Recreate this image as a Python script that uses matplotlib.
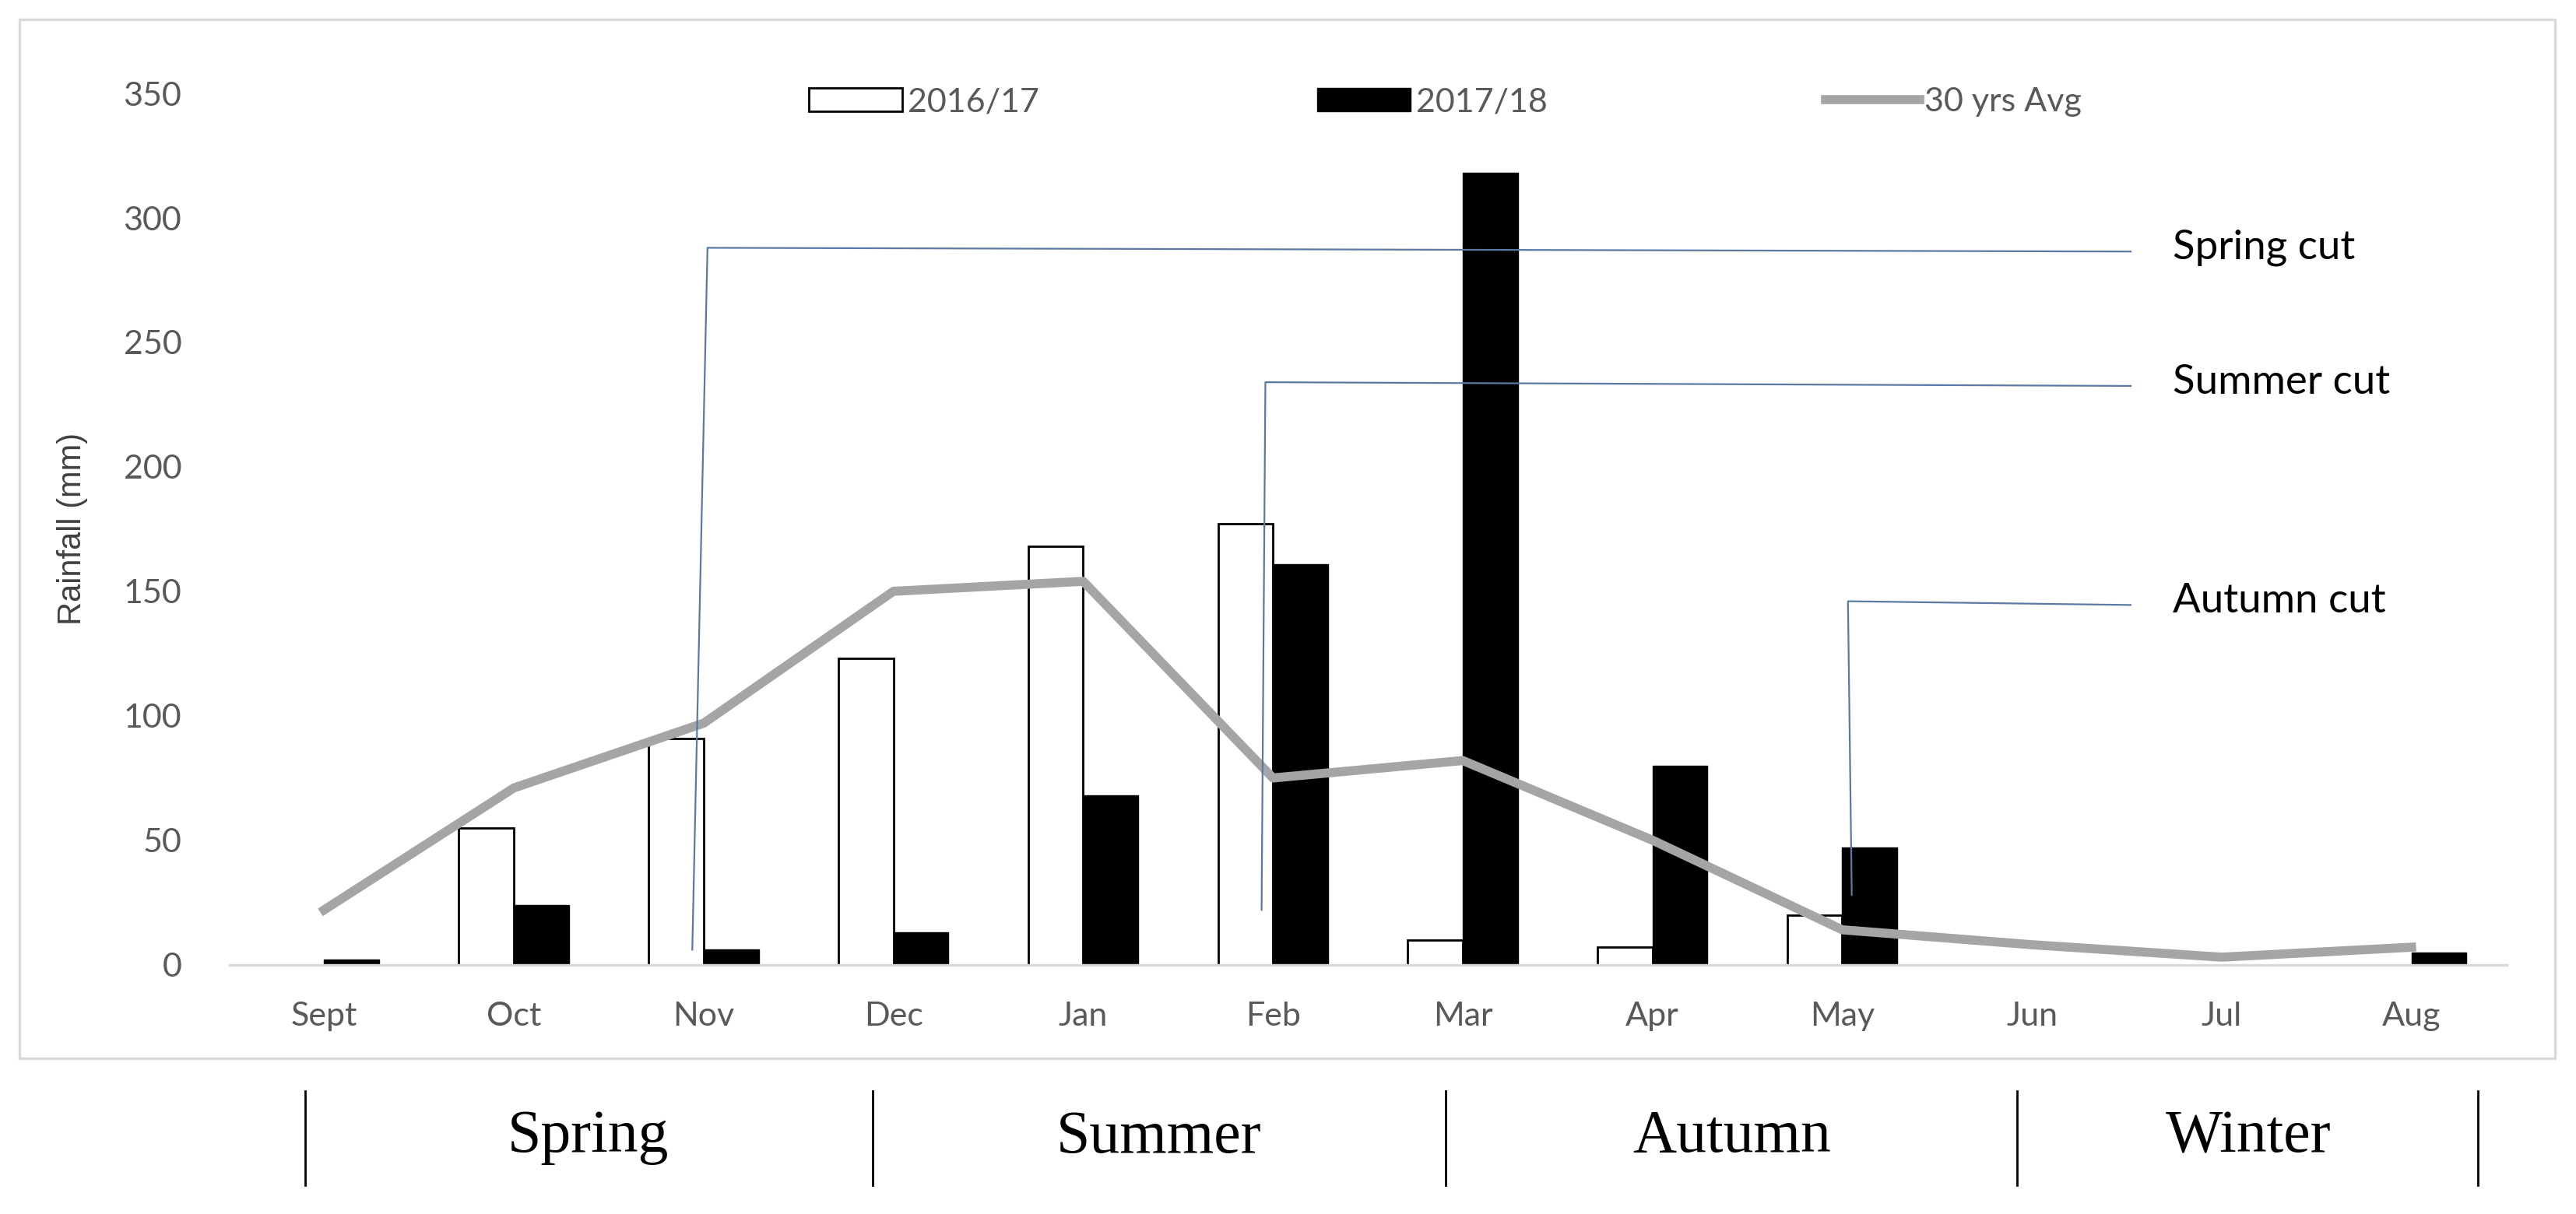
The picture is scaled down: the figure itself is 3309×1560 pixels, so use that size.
import numpy as np
import matplotlib
matplotlib.use('Agg')
import matplotlib.pyplot as plt
from matplotlib.lines import Line2D
from matplotlib.patches import Rectangle
from matplotlib import transforms

months = ['Sept', 'Oct', 'Nov', 'Dec', 'Jan', 'Feb', 'Mar', 'Apr', 'May', 'Jun', 'Jul', 'Aug']
rain_1617 = [0, 55, 91, 123, 168, 177, 10, 7, 20, 0, 0, 0]
rain_1718 = [2, 24, 6, 13, 68, 161, 318, 80, 47, 0, 0, 5]
avg_30yrs = [22, 71, 97, 150, 154, 75, 82, 50, 14, 8, 3, 7]
yticks = [0, 50, 100, 150, 200, 250, 300, 350]

seasons = ['Spring', 'Summer', 'Autumn', 'Winter']

# cut markers: (label, x top, x bottom, y top, y bottom)
cuts = [
    ('Spring cut', 2.02, 1.94, 288, 6),
    ('Summer cut', 4.96, 4.94, 234, 22),
    ('Autumn cut', 8.03, 8.05, 146, 28),
]

sans = ['Lato', 'DejaVu Sans']
tick_col = '#595959'

fig = plt.figure(figsize=(16.545, 7.8), dpi=200)
ax = fig.add_axes([0.089, 0.2054, 0.884, 0.7176])

x = np.arange(len(months))
w = 0.29
b1 = ax.bar(x - w / 2, rain_1617, w, color='white', edgecolor='black', linewidth=1.0,
            label='2016/17', zorder=2)
b2 = ax.bar(x + w / 2, rain_1718, w, color='black', edgecolor='black', linewidth=0.5,
            label='2017/18', zorder=2)
ln, = ax.plot(x, avg_30yrs, color='#a5a5a5', linewidth=4.2, solid_joinstyle='round',
              label='30 yrs Avg', zorder=3)

cut_col = '#5b7aa3'
for name, xt, xb, yt, yb in cuts:
    ax.plot([xb, xt, 9.52], [yb, yt, yt - 1.5], color=cut_col, linewidth=0.8, zorder=4)
    ax.text(9.74, yt, name, fontsize=19, family=sans, color='black', va='center', ha='left')

ax.set_xlim(-0.5, 11.5)
ax.set_ylim(0, 350)
ax.set_xticks(x)
ax.set_xticklabels(months, fontsize=15.5, family=sans, color=tick_col)
ax.set_yticks(yticks)
ax.set_yticklabels([str(v) for v in yticks], fontsize=15.5, family=sans, color=tick_col)
ax.tick_params(axis='both', length=0)
ax.tick_params(axis='y', pad=22)
ax.tick_params(axis='x', pad=17)
for side in ['top', 'right', 'left']:
    ax.spines[side].set_visible(False)
ax.spines['bottom'].set_color('#d9d9d9')
ax.spines['bottom'].set_linewidth(1.2)

ax.set_ylabel('Rainfall (mm)', fontsize=15, family=['Liberation Sans', 'DejaVu Sans'], color='#404040')
ax.yaxis.set_label_coords(-0.062, 0.5)

leg = fig.legend([b1, b2, ln], ['2016/17', '2017/18', '30 yrs Avg'],
                 loc='center', bbox_to_anchor=(0.561, 0.916), ncol=3, frameon=False,
                 handlelength=2.8, handletextpad=0.15, columnspacing=8.3,
                 prop={'family': sans, 'size': 15.5})
for t in leg.get_texts():
    t.set_color(tick_col)

# outer chart border
fig.add_artist(Rectangle((0.0077, 0.128), 0.984, 0.856, transform=fig.transFigure,
                         fill=False, edgecolor='#d9d9d9', linewidth=1.2))

# season band under the chart
trans = transforms.blended_transform_factory(ax.transData, fig.transFigure)
for sx in [-0.10, 2.89, 5.91, 8.92, 11.35]:
    fig.add_artist(Line2D([sx, sx], [0.024, 0.101], transform=trans, color='black', linewidth=1.0))
for name, sx in zip(seasons, [1.39, 4.40, 7.42, 10.14]):
    fig.text(sx, 0.063, name, transform=trans, ha='center', va='center', fontsize=28,
             family=['Liberation Serif', 'DejaVu Serif'], color='black')

fig.savefig('out.png', dpi=200)
